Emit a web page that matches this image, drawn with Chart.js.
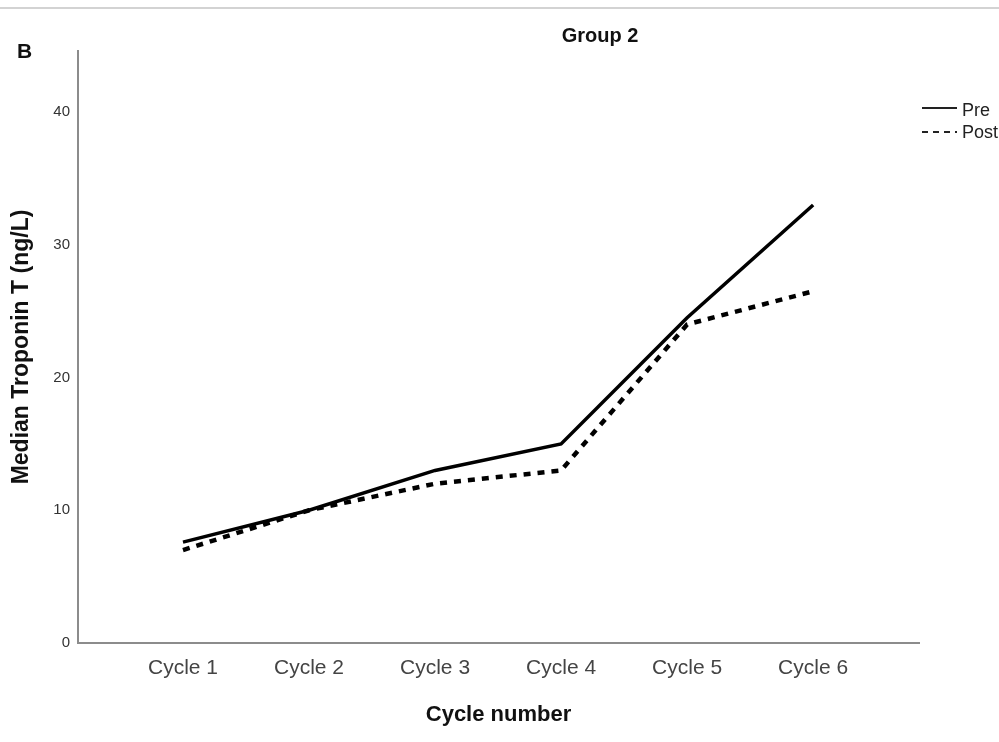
<!DOCTYPE html>
<html>
<head>
<meta charset="utf-8">
<script src="https://cdn.jsdelivr.net/npm/chart.js@4/dist/chart.umd.min.js"></script>
<style>
  html, body { margin: 0; padding: 0; background: #fff; }
  #wrap { width: 999px; height: 742px; position: relative; }
</style>
</head>
<body>
<div id="wrap"><canvas id="c" width="999" height="742"></canvas></div>
<script>
// Median troponin T per treatment cycle, group 2
const categories = ['Cycle 1', 'Cycle 2', 'Cycle 3', 'Cycle 4', 'Cycle 5', 'Cycle 6'];
const preValues  = [7.6, 10, 13, 15, 24.5, 33];
const postValues = [7, 10, 12, 13, 24, 26.5];
const yTicks = [0, 10, 20, 30, 40];
const seriesNames = ['Pre', 'Post'];

const FONT = "'Liberation Sans', Arial, sans-serif";

// Panel letter, chart heading, legend and the thin rule across the top
const decorations = {
  id: 'decorations',
  beforeDraw(chart) {
    const ctx = chart.ctx;
    ctx.save();
    ctx.fillStyle = '#fff';
    ctx.fillRect(0, 0, chart.width, chart.height);
    ctx.strokeStyle = '#c4c4c4';
    ctx.lineWidth = 1.5;
    ctx.beginPath();
    ctx.moveTo(0, 8);
    ctx.lineTo(chart.width, 8);
    ctx.stroke();
    ctx.restore();
  },
  afterDraw(chart) {
    const ctx = chart.ctx;
    ctx.save();
    ctx.fillStyle = '#111';
    ctx.textBaseline = 'middle';
    ctx.font = 'bold 21px ' + FONT;
    ctx.textAlign = 'left';
    ctx.fillText('B', 17, 52);
    ctx.font = 'bold 20px ' + FONT;
    ctx.textAlign = 'center';
    ctx.fillText('Group 2', 600, 36);

    // legend
    ctx.font = '18px ' + FONT;
    ctx.textAlign = 'left';
    const rows = [{ y: 108, ty: 111 }, { y: 132, ty: 133 }];
    rows.forEach((r, i) => {
      ctx.strokeStyle = '#222';
      ctx.lineWidth = 2;
      ctx.setLineDash(i === 0 ? [] : [6, 5]);
      ctx.beginPath();
      ctx.moveTo(922, r.y);
      ctx.lineTo(957, r.y);
      ctx.stroke();
      ctx.setLineDash([]);
      ctx.fillStyle = '#222';
      ctx.fillText(seriesNames[i], 962, r.ty);
    });
    ctx.restore();
  }
};

const toPoints = vals => vals.map((v, i) => ({ x: i + 1, y: v }));

new Chart(document.getElementById('c'), {
  type: 'line',
  data: {
    datasets: [
      {
        label: seriesNames[0],
        data: toPoints(preValues),
        borderColor: '#000',
        borderWidth: 3.5,
        pointRadius: 0,
        tension: 0,
        fill: false
      },
      {
        label: seriesNames[1],
        data: toPoints(postValues),
        borderColor: '#000',
        borderWidth: 4.5,
        borderDash: [7, 7],
        borderCapStyle: 'butt',
        pointRadius: 0,
        tension: 0,
        fill: false
      }
    ]
  },
  options: {
    responsive: false,
    animation: false,
    devicePixelRatio: 1,
    layout: { padding: { top: 51, right: 80, left: 0, bottom: 0 } },
    plugins: { legend: { display: false }, title: { display: false }, tooltip: { enabled: false } },
    scales: {
      x: {
        type: 'linear',
        min: 0.167,
        max: 6.84,
        grid: { display: false, drawTicks: false },
        border: { display: true, color: '#8c8c8c', width: 2 },
        afterBuildTicks: s => { s.ticks = categories.map((c, i) => ({ value: i + 1 })); },
        afterFit: s => { s.height = 99; },
        ticks: {
          autoSkip: false,
          maxRotation: 0,
          padding: 13,
          color: '#444',
          font: { family: FONT, size: 21 },
          callback: v => categories[v - 1]
        },
        title: {
          display: true,
          text: 'Cycle number',
          color: '#111',
          font: { family: FONT, size: 22, weight: 'bold' },
          padding: { top: 0, bottom: 14 }
        }
      },
      y: {
        min: 0,
        max: 44.6,
        grid: { display: false, drawTicks: false },
        border: { display: true, color: '#8c8c8c', width: 2 },
        afterBuildTicks: s => { s.ticks = yTicks.map(v => ({ value: v })); },
        afterFit: s => { s.width = 78; },
        ticks: {
          padding: 8,
          color: '#333',
          font: { family: FONT, size: 15 }
        },
        title: {
          display: true,
          text: 'Median Troponin T (ng/L)',
          color: '#111',
          font: { family: FONT, size: 23, weight: 'bold' },
          padding: { top: 8, bottom: 0 }
        }
      }
    }
  },
  plugins: [decorations]
});
</script>
</body>
</html>
